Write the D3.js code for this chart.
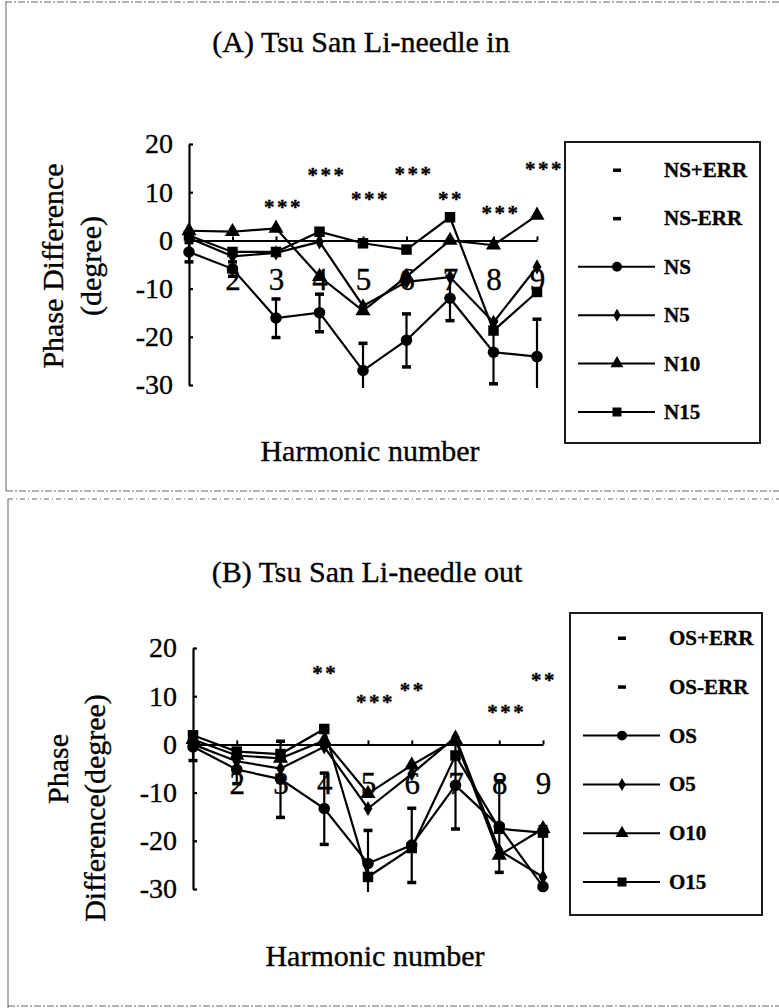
<!DOCTYPE html>
<html>
<head>
<meta charset="utf-8">
<script src="https://cdn.jsdelivr.net/npm/d3@7"></script>
<style>
body { margin: 0; background: #fff; }
text { font-family: "Liberation Serif", "Times New Roman", serif; fill: #000; stroke: #000; stroke-width: 0.35px; }
</style>
</head>
<body>
<div id="chart"></div>
<script>
var harmonics = [1, 2, 3, 4, 5, 6, 7, 8, 9];
var harmonicLabels = ["", "2", "3", "4", "5", "6", "7", "8", "9"];
var yTicks = [20, 10, 0, -10, -20, -30];

// (A) needle in
var nsMean = [-2.4, -5.9, -16.1, -15.0, -27.0, -20.7, -12.0, -23.2, -24.1];
var nsErr  = [2.0, 1.5, 4.0, 3.9, 5.7, 5.5, 4.6, 6.5, 7.8];
var n5     = [0.5, -3.3, -2.6, -0.3, -13.6, -8.6, -7.6, -17.0, -5.5];
var n10    = [2.0, 1.8, 2.5, -7.5, -14.6, -7.5, 0.0, -1.0, 5.2];
var n15    = [1.0, -2.4, -2.4, 1.8, -0.6, -1.9, 4.8, -18.7, -10.7];
var starsA     = [0, 0, 3, 3, 3, 3, 2, 3, 3];
var starLevelA = [0, 0, 7.8, 14.4, 9.4, 14.6, 9.4, 6.5, 15.6];

// (B) needle out
var osMean = [-0.5, -5.2, -7.2, -13.3, -24.7, -20.9, -8.5, -17.0, -29.5];
var osErr  = [2.8, 2.9, 7.9, 7.4, 6.9, 7.7, 9.0, 9.5, 12.5];
var o5     = [0.0, -3.5, -5.0, -0.5, -13.3, -6.1, 1.5, -22.0, -27.5];
var o10    = [1.0, -2.3, -2.9, 0.8, -10.2, -4.3, 1.0, -23.0, -17.5];
var o15    = [1.9, -1.5, -2.0, 3.2, -27.5, -21.5, -2.3, -17.5, -18.3];
var starsB     = [0, 0, 0, 2, 3, 2, 0, 3, 2];
var starLevelB = [0, 0, 0, 15.6, 9.6, 12.1, 0, 7.6, 14.2];

var legendA = ["NS+ERR", "NS-ERR", "NS", "N5", "N10", "N15"];
var legendB = ["OS+ERR", "OS-ERR", "OS", "O5", "O10", "O15"];
var shapes = ["dash", "dash", "circle", "diamond", "triangle", "square"];

function init() {
    var svg = d3.select("#chart").append("svg")
        .attr("width", 779)
        .attr("height", 1008);

    // scanned page frame
    var frame = svg.append("g")
        .attr("stroke", "#666")
        .attr("stroke-width", 1)
        .attr("fill", "none");
    frame.append("line").attr("x1", 5).attr("x2", 779).attr("y1", 2).attr("y2", 2).attr("stroke-dasharray", "7 2 2 2");
    frame.append("line").attr("x1", 6).attr("x2", 6).attr("y1", 2).attr("y2", 491);
    frame.append("line").attr("x1", 6).attr("x2", 779).attr("y1", 491).attr("y2", 491).attr("stroke-dasharray", "7 2 2 2");
    frame.append("line").attr("x1", 8).attr("x2", 779).attr("y1", 499).attr("y2", 499).attr("stroke-dasharray", "5 3 1 3");
    frame.append("line").attr("x1", 8).attr("x2", 8).attr("y1", 499).attr("y2", 1008);
    frame.append("line").attr("x1", 8).attr("x2", 779).attr("y1", 1006).attr("y2", 1006).attr("stroke-dasharray", "7 2 2 2");

    drawPanel(svg, {
        title: "(A) Tsu San Li-needle in", titleX: 361, titleY: 52,
        x0: 189, x1: 537, yTop: 144, yBot: 385,
        mean: nsMean, err: nsErr, series: [n5, n10, n15],
        stars: starsA, starLevel: starLevelA,
        yTitle: [["Phase Difference", 63, 266], ["(degree)", 101, 266]],
        xTitleX: 370, xTitleY: 461,
        legend: legendA, legX: 565, legY: 142, legW: 195, legH: 301,
        legFirst: 170, legStep: 48.4, legMark: 617, legText: 664
    });

    drawPanel(svg, {
        title: "(B) Tsu San Li-needle out", titleX: 367, titleY: 582,
        x0: 193, x1: 543, yTop: 648, yBot: 889,
        mean: osMean, err: osErr, series: [o5, o10, o15],
        stars: starsB, starLevel: starLevelB,
        yTitle: [["Phase", 68, 769], ["Difference(degree)", 105, 808]],
        xTitleX: 375, xTitleY: 966,
        legend: legendB, legX: 570, legY: 613, legW: 192, legH: 302,
        legFirst: 638, legStep: 48.8, legMark: 622, legText: 669
    });
}

function marker(sel, shape, cx, cy, big) {
    var k = big ? 1.05 : 0.9;
    if (shape == "circle") {
        sel.append("circle").attr("cx", cx).attr("cy", cy).attr("r", 5.5 * k);
    } else if (shape == "dash") {
        sel.append("rect").attr("x", cx - 4).attr("y", cy - 1.5).attr("width", 8).attr("height", 3.5);
    } else {
        var type = shape == "diamond" ? d3.symbolDiamond
            : shape == "triangle" ? d3.symbolTriangle : d3.symbolSquare;
        var size = shape == "diamond" ? 60 : shape == "triangle" ? 90 : 100;
        sel.append("path")
            .attr("d", d3.symbol().type(type).size(size * k * k)())
            .attr("transform", "translate(" + cx + "," + cy + ")");
    }
}

function drawPanel(svg, p) {
    var xScale = d3.scaleLinear().domain([1, 9]).range([p.x0, p.x1]);
    var yScale = d3.scaleLinear().domain([-30, 20]).range([p.yBot, p.yTop]);
    var g = svg.append("g");

    g.append("text")
        .attr("x", p.titleX)
        .attr("y", p.titleY)
        .attr("text-anchor", "middle")
        .style("font-size", "30px")
        .text(p.title);

    // y axis titles
    p.yTitle.forEach(function (t) {
        g.append("text")
            .attr("transform", "translate(" + t[1] + "," + t[2] + ") rotate(-90)")
            .attr("text-anchor", "middle")
            .style("font-size", "30px")
            .text(t[0]);
    });

    g.append("text")
        .attr("x", p.xTitleX)
        .attr("y", p.xTitleY)
        .attr("text-anchor", "middle")
        .style("font-size", "30px")
        .text("Harmonic number");

    // Axis Code
    var yAxis = d3.axisLeft(yScale)
        .tickValues(yTicks)
        .tickSize(-4)
        .tickSizeOuter(0)
        .tickPadding(16)
        .tickFormat(function (d) { return String(d); });

    var xAxis = d3.axisBottom(xScale)
        .tickValues(harmonics)
        .tickSize(-4)
        .tickSizeOuter(0)
        .tickPadding(28)
        .tickFormat(function (d, i) { return harmonicLabels[i]; });

    var ya = g.append("g")
        .attr("transform", "translate(" + p.x0 + ",0)")
        .call(yAxis)
        .attr("font-family", null)
        .attr("font-size", null);
    ya.selectAll("text").style("font-size", "28px");
    ya.selectAll("path,line").attr("stroke-width", 2.2);

    var xa = g.append("g")
        .attr("transform", "translate(0," + yScale(0) + ")")
        .call(xAxis)
        .attr("font-family", null)
        .attr("font-size", null);
    xa.selectAll("text").style("font-size", "31px");
    xa.selectAll("path,line").attr("stroke-width", 2);

    // error bars of the saline series
    var eb = g.append("g").attr("stroke", "#000").attr("stroke-width", 2.2);
    p.mean.forEach(function (m, i) {
        var hi = m + p.err[i], lo = m - p.err[i];
        var cx = xScale(harmonics[i]);
        eb.append("line")
            .attr("x1", cx).attr("x2", cx)
            .attr("y1", yScale(Math.min(hi, 20)))
            .attr("y2", yScale(Math.max(lo, -30)) + (lo < -30 ? 3 : 0));
        [hi, lo].forEach(function (v) {
            if (v >= -30 && v <= 20) {
                eb.append("rect")
                    .attr("x", cx - 4.5).attr("y", yScale(v) - 1.5)
                    .attr("width", 9).attr("height", 3.5)
                    .attr("stroke", "none").attr("fill", "#000");
            }
        });
    });

    // lines + markers
    var line = d3.line()
        .x(function (d, i) { return xScale(harmonics[i]); })
        .y(function (d) { return yScale(d); });

    var all = [p.mean].concat(p.series);
    all.forEach(function (s, k) {
        g.append("path")
            .datum(s)
            .attr("d", line)
            .attr("fill", "none")
            .attr("stroke", "#000")
            .attr("stroke-width", 2.2);
        var mg = g.append("g").attr("fill", "#000");
        s.forEach(function (v, i) {
            marker(mg, shapes[k + 2], xScale(harmonics[i]), yScale(v), true);
        });
    });

    // significance stars
    p.stars.forEach(function (n, i) {
        if (!n) return;
        g.append("text")
            .attr("x", xScale(harmonics[i]) - 12)
            .attr("y", yScale(p.starLevel[i]) + 11)
            .style("font-size", "21px")
            .style("font-weight", "bold")
            .style("letter-spacing", "2.5px")
            .text(d3.range(n).map(function () { return "*"; }).join(""));
    });

    // legend
    var lg = g.append("g");
    lg.append("rect")
        .attr("x", p.legX).attr("y", p.legY)
        .attr("width", p.legW).attr("height", p.legH)
        .attr("fill", "#fff")
        .attr("stroke", "#000")
        .attr("stroke-width", 1.8);
    p.legend.forEach(function (name, i) {
        var ly = p.legFirst + i * p.legStep;
        if (shapes[i] != "dash") {
            lg.append("line")
                .attr("x1", p.legMark - 39).attr("x2", p.legMark + 38)
                .attr("y1", ly).attr("y2", ly)
                .attr("stroke", "#000").attr("stroke-width", 2);
        }
        var mg = lg.append("g").attr("fill", "#000");
        marker(mg, shapes[i], p.legMark, ly, false);
        lg.append("text")
            .attr("x", p.legText)
            .attr("y", ly + 7)
            .style("font-size", "21px")
            .style("font-weight", "bold")
            .text(name);
    });
}

window.onload = init;
</script>
</body>
</html>
